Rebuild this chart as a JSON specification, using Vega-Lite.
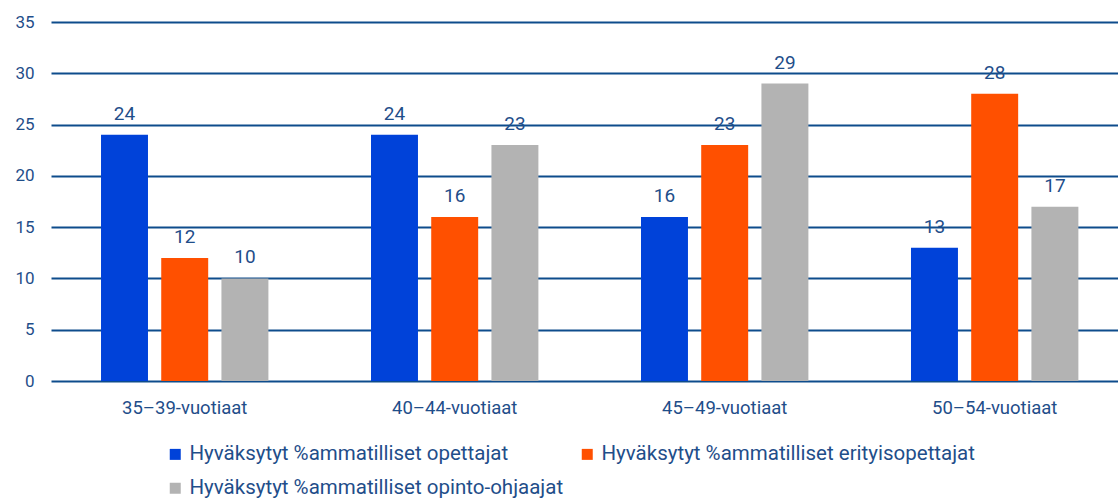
{
  "$schema": "https://vega.github.io/schema/vega-lite/v6.json",
  "width": 1067,
  "height": 359,
  "autosize": {"type": "none"},
  "padding": {"left": 51, "top": 22, "right": 0, "bottom": 121},
  "background": "white",
  "config": {
    "view": {"stroke": null},
    "font": "Roboto",
    "axis": {"labelFont": "Roboto", "labelFontSize": 17, "labelColor": "#1F4E8A"},
    "legend": {"labelFont": "Roboto", "labelFontSize": 20.5, "labelColor": "#1F4E8A"}
  },
  "data": {
    "values": [
      {"ika": "35–39-vuotiaat", "sarja": "Hyväksytyt %ammatilliset opettajat", "arvo": 24},
      {"ika": "35–39-vuotiaat", "sarja": "Hyväksytyt %ammatilliset erityisopettajat", "arvo": 12},
      {"ika": "35–39-vuotiaat", "sarja": "Hyväksytyt %ammatilliset opinto-ohjaajat", "arvo": 10},
      {"ika": "40–44-vuotiaat", "sarja": "Hyväksytyt %ammatilliset opettajat", "arvo": 24},
      {"ika": "40–44-vuotiaat", "sarja": "Hyväksytyt %ammatilliset erityisopettajat", "arvo": 16},
      {"ika": "40–44-vuotiaat", "sarja": "Hyväksytyt %ammatilliset opinto-ohjaajat", "arvo": 23},
      {"ika": "45–49-vuotiaat", "sarja": "Hyväksytyt %ammatilliset opettajat", "arvo": 16},
      {"ika": "45–49-vuotiaat", "sarja": "Hyväksytyt %ammatilliset erityisopettajat", "arvo": 23},
      {"ika": "45–49-vuotiaat", "sarja": "Hyväksytyt %ammatilliset opinto-ohjaajat", "arvo": 29},
      {"ika": "50–54-vuotiaat", "sarja": "Hyväksytyt %ammatilliset opettajat", "arvo": 13},
      {"ika": "50–54-vuotiaat", "sarja": "Hyväksytyt %ammatilliset erityisopettajat", "arvo": 28},
      {"ika": "50–54-vuotiaat", "sarja": "Hyväksytyt %ammatilliset opinto-ohjaajat", "arvo": 17}
    ]
  },
  "encoding": {
    "x": {
      "field": "ika", "type": "nominal", "sort": null, "title": null,
      "scale": {"paddingInner": 0.38, "paddingOuter": 0.166, "align": 0.558},
      "axis": {"labelAngle": 0, "domain": false, "ticks": false, "labelPadding": 17, "labelFontSize": 18.5}
    },
    "xOffset": {
      "field": "sarja", "type": "nominal", "sort": null,
      "scale": {"paddingInner": 0.22, "paddingOuter": 0}
    },
    "y": {
      "field": "arvo", "type": "quantitative", "title": null,
      "scale": {"domain": [0, 35], "nice": false},
      "axis": {"values": [0, 5, 10, 15, 20, 25, 30, 35], "domain": false, "ticks": false, "labelPadding": 17, "gridColor": "#0E4C8C", "gridWidth": 2, "gridOpacity": 1}
    }
  },
  "layer": [
    {
      "mark": {"type": "bar"},
      "encoding": {
        "color": {
          "field": "sarja", "type": "nominal", "sort": null, "title": null,
          "scale": {
            "domain": ["Hyväksytyt %ammatilliset opettajat", "Hyväksytyt %ammatilliset erityisopettajat", "Hyväksytyt %ammatilliset opinto-ohjaajat"],
            "range": ["#0042D9", "#FF5000", "#B3B3B3"]
          },
          "legend": {
            "orient": "none", "legendX": 114, "legendY": 422, "direction": "horizontal", "columns": 2,
            "symbolType": "square", "symbolSize": 121, "symbolStrokeWidth": 0, "symbolOpacity": 1,
            "labelOffset": 4, "columnPadding": 13, "rowPadding": 13,
            "labelLimit": 600
          }
        }
      }
    },
    {
      "mark": {"type": "text", "baseline": "bottom", "dy": -11, "fontSize": 19, "color": "#1F4E8A", "font": "Roboto"},
      "encoding": {"text": {"field": "arvo", "type": "quantitative"}}
    }
  ]
}
